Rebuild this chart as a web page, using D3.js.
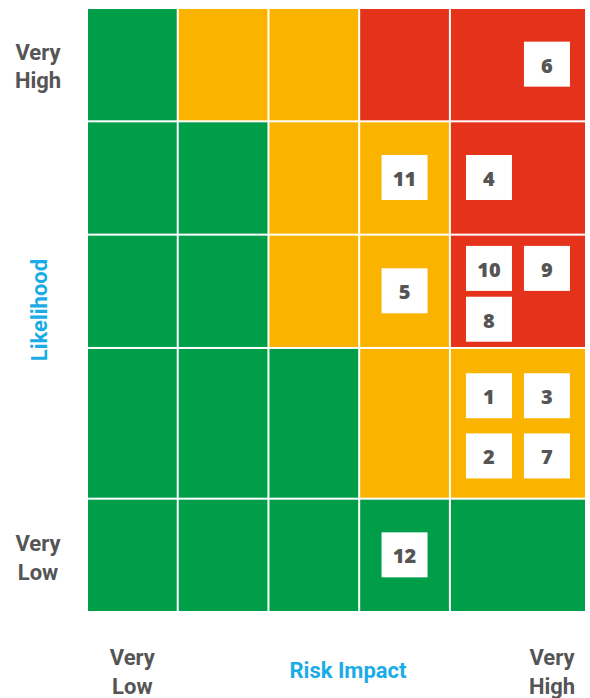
<!DOCTYPE html>
<html>
<head>
<meta charset="utf-8">
<script src="https://cdn.jsdelivr.net/npm/d3@7"></script>
<style>
  html, body { margin: 0; padding: 0; background: #ffffff; }
  svg { display: block; }
</style>
</head>
<body>
<script>
// ---------------- DATA ----------------
const impactLevels = ["Very Low", "Low", "Medium", "High", "Very High"];
const likelihoodLevels = ["Very Low", "Low", "Medium", "High", "Very High"];
// heat-map colour class per cell: rows from Very High (top) to Very Low (bottom)
const cellClasses = [
  ["G", "Y", "Y", "R", "R"],   // Very High likelihood
  ["G", "G", "Y", "Y", "R"],   // High
  ["G", "G", "Y", "Y", "R"],   // Medium
  ["G", "G", "G", "Y", "Y"],   // Low
  ["G", "G", "G", "G", "G"]    // Very Low
];
const riskIds        = [1, 2, 3, 4, 5, 6, 7, 8, 9, 10, 11, 12];
const riskImpact     = [4, 4, 4, 4, 3, 4, 4, 4, 4, 4, 3, 3];   // index into impactLevels
const riskLikelihood = [1, 1, 1, 3, 2, 4, 1, 2, 2, 2, 3, 0];   // index into likelihoodLevels
// slot of the box inside its cell (-1 = centred, 0 = first, 1 = second)
const riskSlotX      = [0, 0, 1, 0, -1, 1, 1, 0, 1, 0, -1, -1];
const riskSlotY      = [0, 1, 0, -1, -1, -1, 1, 1, 0, 0, -1, -1];
const yEndLabels = [["Very", "High"], ["Very", "Low"]];
const xEndLabels = [["Very", "Low"], ["Very", "High"]];
const xTitle = "Risk Impact";
const yTitle = "Likelihood";

// ---------------- LAYOUT ----------------
const W = 590, H = 698;
const colWeights = [1, 1, 1, 1, 1.5];
const rowWeights = [1, 1, 1, 1.33, 1];   // top to bottom
const colors = { G: "#009E49", Y: "#FAB400", R: "#E5321B" };
const textGray = "#555555";
const blue = "#1AACE6";
const font = "Roboto, 'Open Sans', sans-serif";
const numFont = "'Open Sans', Roboto, sans-serif";

const svg = d3.select("body").append("svg").attr("width", W).attr("height", H);

const colCum = [0]; colWeights.forEach(w => colCum.push(colCum[colCum.length - 1] + w));
const rowCum = [0]; rowWeights.forEach(w => rowCum.push(rowCum[rowCum.length - 1] + w));
const x = d3.scaleLinear().domain([0, colCum[colCum.length - 1]]).range([87, 586]);
const y = d3.scaleLinear().domain([0, rowCum[rowCum.length - 1]]).range([8, 612]);

const colX0 = i => x(colCum[i]) + 1, colX1 = i => x(colCum[i + 1]) - 1;
const rowY0 = r => y(rowCum[r]) + 1, rowY1 = r => y(rowCum[r + 1]) - 1;

// cells
const cells = [];
cellClasses.forEach((row, r) => row.forEach((c, ci) => cells.push({ r, ci, c })));
svg.append("g").selectAll("rect").data(cells).join("rect")
  .attr("x", d => colX0(d.ci))
  .attr("y", d => rowY0(d.r))
  .attr("width", d => colX1(d.ci) - colX0(d.ci))
  .attr("height", d => rowY1(d.r) - rowY0(d.r))
  .attr("fill", d => colors[d.c]);

// risk boxes
const box = 46;
const risks = riskIds.map((id, i) => ({
  id, col: riskImpact[i], row: likelihoodLevels.length - 1 - riskLikelihood[i],
  sx: riskSlotX[i], sy: riskSlotY[i]
}));
function boxX(d) {
  const x0 = colX0(d.col), x1 = colX1(d.col);
  if (d.sx < 0) return (x0 + x1) / 2 - box / 2;
  const sb = d3.scaleBand().domain([0, 1]).range([x0, x1]).paddingInner(0.207).paddingOuter(0.26);
  return sb(d.sx);
}
function boxY(d) {
  const y0 = rowY0(d.row), y1 = rowY1(d.row);
  const c = (y0 + y1) / 2;
  if (d.sy < 0) return c - box / 2;
  const gap = Math.max(4, (y1 - y0 - 2 * box) / 4);
  const top = c + 3 - box - gap / 2;
  return top + d.sy * (box + gap);
}
const bg = svg.append("g").selectAll("g").data(risks).join("g")
  .attr("transform", d => `translate(${boxX(d)},${boxY(d)})`);
bg.append("rect").attr("width", box).attr("height", box - 1).attr("fill", "#ffffff");
bg.append("text")
  .attr("x", box / 2).attr("y", box / 2 + 8)
  .attr("text-anchor", "middle")
  .attr("font-family", numFont).attr("font-weight", 800).attr("font-size", 20)
  .attr("fill", textGray)
  .text(d => d.id);

// end labels
function multiLine(g, lines, cx, firstBaseline, anchor) {
  const t = g.append("text")
    .attr("font-family", font).attr("font-weight", 700).attr("font-size", 22)
    .attr("fill", textGray).attr("text-anchor", anchor);
  lines.forEach((l, i) => t.append("tspan").attr("x", cx).attr("y", firstBaseline + i * 28.5).text(l));
}
const lab = svg.append("g");
const r0c = (rowY0(0) + rowY1(0)) / 2;
const r4c = (rowY0(4) + rowY1(4)) / 2;
multiLine(lab, yEndLabels[0], 38, r0c - 5, "middle");
multiLine(lab, yEndLabels[1], 38, r4c - 4, "middle");
multiLine(lab, xEndLabels[0], (colX0(0) + colX1(0)) / 2, 665, "middle");
multiLine(lab, xEndLabels[1], 552, 665, "middle");

// titles
svg.append("text")
  .attr("x", 348).attr("y", 678)
  .attr("text-anchor", "middle")
  .attr("font-family", font).attr("font-weight", 700).attr("font-size", 22)
  .attr("fill", blue).text(xTitle);
svg.append("text")
  .attr("transform", `translate(47,310) rotate(-90)`)
  .attr("text-anchor", "middle")
  .attr("font-family", font).attr("font-weight", 700).attr("font-size", 22)
  .attr("fill", blue).text(yTitle);
</script>
</body>
</html>
